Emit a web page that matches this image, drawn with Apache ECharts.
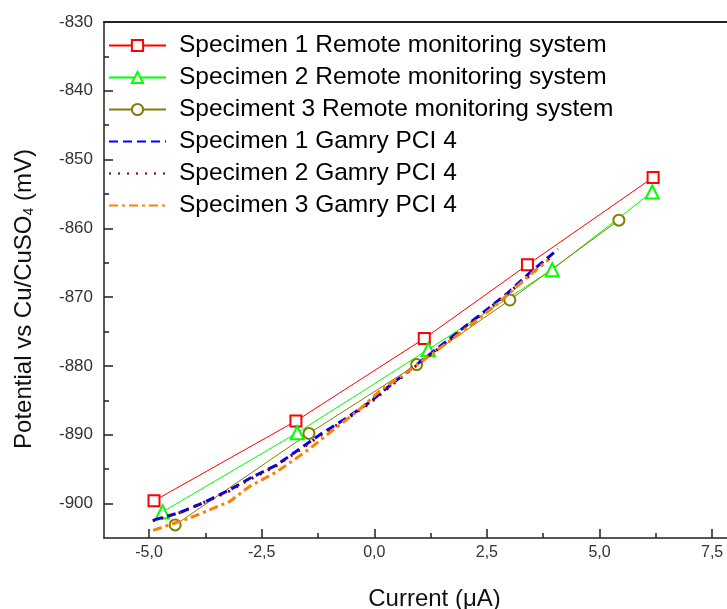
<!DOCTYPE html>
<html>
<head>
<meta charset="utf-8">
<title>Potential vs current</title>
<script src="https://cdn.jsdelivr.net/npm/echarts@6/dist/echarts.min.js"></script>
<style>
    html, body { margin: 0; padding: 0; background: #fff; }
    #chart { width: 727px; height: 609px; }
</style>
</head>
<body>
<div id="chart"></div>
<script>
// remote monitoring system, 5 readings each
const remote1X = [-4.89, -1.74, 1.11, 3.40, 6.19]
const remote1Y = [-899.6, -888.0, -876.0, -865.3, -852.6]
const remote2X = [-4.70, -1.71, 1.20, 3.95, 6.17]
const remote2Y = [-901.2, -889.7, -877.6, -866.0, -854.7]
const remote3X = [-4.42, -1.45, 0.94, 3.01, 5.43]
const remote3Y = [-903.1, -889.8, -879.8, -870.4, -858.8]

// Gamry PCI 4 sweeps
const gamry1X = [-4.90, -4.32, -3.80, -3.21, -2.73, -2.17, -1.69, -1.19, -0.65, -0.11, 0.39, 0.88, 1.43, 1.97, 2.46, 2.96, 3.46, 4.08]
const gamry1Y = [-902.4, -901.3, -899.9, -898.0, -896.2, -894.4, -892.2, -889.9, -887.7, -885.3, -882.6, -880.1, -877.3, -874.5, -872.0, -869.4, -866.4, -863.0]
const gamry2X = [-4.92, -4.35, -3.91, -3.28, -2.77, -2.20, -1.70, -1.20, -0.66, -0.12, 0.38, 0.86, 1.42, 1.95, 2.43, 2.78, 3.37, 3.93]
const gamry2Y = [-902.5, -901.4, -900.2, -898.4, -896.5, -894.6, -892.4, -890.1, -887.9, -885.5, -882.8, -880.3, -877.5, -874.7, -872.3, -870.4, -867.3, -864.1]
const gamry3X = [-4.91, -4.10, -3.58, -3.21, -2.77, -2.17, -1.73, -1.43, -1.01, -0.38, 0.16, 0.70, 1.25, 1.79, 2.15, 2.69, 3.14, 3.55, 3.86]
const gamry3Y = [-903.9, -902.1, -900.7, -899.7, -897.5, -895.4, -893.4, -892.0, -889.8, -886.6, -883.4, -881.0, -878.4, -875.8, -874.0, -871.2, -868.6, -866.2, -864.6]

const seriesNames = [
    'Specimen 1 Remote monitoring system',
    'Specimen 2 Remote monitoring system',
    'Speciment 3 Remote monitoring system',
    'Specimen 1 Gamry PCI 4',
    'Specimen 2 Gamry PCI 4',
    'Specimen 3 Gamry PCI 4'
]

const xMajorTicks = [-5, -2.5, 0, 2.5, 5, 7.5]
const xMinorTicks = [-3.75, -1.25, 1.25, 3.75, 6.25]
const yMajorTicks = [-900, -890, -880, -870, -860, -850, -840, -830]
const yMinorTicks = [-895, -885, -875, -865, -855, -845, -835]

// the original frame runs past the right edge of the picture
const xMin = -6
const xMax = 7.83
const yMin = -905
const yMax = -830

const pairs = (xs, ys) => xs.map((x, i) => [x, ys[i]])

const fontFam = "'Liberation Sans', Arial, sans-serif"

const chart = echarts.init(document.getElementById('chart'), null, { renderer: 'canvas' })

const remoteSeries = (name, xs, ys, color, symbol, size) => ({
    name: name,
    type: 'line',
    data: pairs(xs, ys),
    symbol: symbol,
    symbolSize: size,
    lineStyle: { color: color, width: 1 },
    itemStyle: { color: color, borderWidth: 1.5 },
    emphasis: { disabled: true },
    z: 3
})

const gamrySeries = (name, xs, ys, color, dash) => ({
    name: name,
    type: 'line',
    data: pairs(xs, ys),
    showSymbol: false,
    symbol: 'none',
    lineStyle: { color: color, width: 3, type: dash },
    itemStyle: { color: color },
    emphasis: { disabled: true },
    z: 4
})

// the Gamry entries get a plain line in the legend, no marker
const legendData = seriesNames.map((n, i) => i < 3 ? n : { name: n, itemStyle: { opacity: 0 } })

const frameLine = { color: '#222', width: 1.5 }

chart.setOption({
    animation: false,
    backgroundColor: '#fff',
    grid: {
        left: 104,
        top: 22,
        right: 0,
        bottom: 71,
        outerBoundsMode: 'none'
    },
    legend: {
        orient: 'vertical',
        left: 108,
        top: 33,
        padding: 0,
        itemWidth: 57,
        itemHeight: 14,
        itemGap: 7,
        data: legendData,
        textStyle: {
            color: '#000',
            fontFamily: fontFam,
            fontSize: 24.5,
            lineHeight: 24,
            padding: [0, 0, 0, 8]
        }
    },
    xAxis: [{
        type: 'value',
        position: 'bottom',
        min: xMin,
        max: xMax,
        name: 'Current (\u03bcA)',
        nameLocation: 'middle',
        nameGap: 48,
        nameTextStyle: {
            color: '#111',
            fontFamily: fontFam,
            fontSize: 24,
            lineHeight: 26,
            padding: [0, 0, 0, 38]
        },
        axisLine: { onZero: false, lineStyle: frameLine },
        axisTick: { inside: true, length: 9, lineStyle: frameLine, customValues: xMajorTicks },
        axisLabel: {
            customValues: xMajorTicks,
            margin: 7,
            color: '#333',
            fontFamily: fontFam,
            fontSize: 16,
            formatter: v => v.toFixed(1).replace('.', ',')
        },
        splitLine: { show: false }
    }, {
        type: 'value',
        position: 'bottom',
        min: xMin,
        max: xMax,
        axisLine: { show: false, onZero: false },
        axisTick: { inside: true, length: 5, lineStyle: frameLine, customValues: xMinorTicks },
        axisLabel: { show: false },
        splitLine: { show: false }
    }, {
        // top frame line
        type: 'value',
        position: 'top',
        min: xMin,
        max: xMax,
        axisLine: { show: true, onZero: false, lineStyle: { color: '#222', width: 2 } },
        axisTick: { show: false },
        axisLabel: { show: false },
        splitLine: { show: false }
    }],
    yAxis: [{
        type: 'value',
        position: 'left',
        min: yMin,
        max: yMax,
        name: 'Potential vs Cu/CuSO{sub|4} (mV)',
        nameLocation: 'middle',
        nameGap: 68,
        nameTextStyle: {
            color: '#111',
            fontFamily: fontFam,
            fontSize: 24,
            padding: [0, 38, 0, 0],
            rich: {
                sub: { fontSize: 14, fontFamily: fontFam, color: '#111', padding: [10, 0, 0, 0] }
            }
        },
        axisLine: { onZero: false, lineStyle: frameLine },
        axisTick: { inside: true, length: 9, lineStyle: frameLine, customValues: yMajorTicks },
        axisLabel: {
            customValues: yMajorTicks,
            margin: 11,
            color: '#333',
            fontFamily: fontFam,
            fontSize: 17
        },
        splitLine: { show: false }
    }, {
        type: 'value',
        position: 'left',
        min: yMin,
        max: yMax,
        axisLine: { show: false, onZero: false },
        axisTick: { inside: true, length: 5, lineStyle: frameLine, customValues: yMinorTicks },
        axisLabel: { show: false },
        splitLine: { show: false }
    }],
    series: [
        remoteSeries(seriesNames[0], remote1X, remote1Y, '#ff0000', 'emptyRect', 11),
        remoteSeries(seriesNames[1], remote2X, remote2Y, '#00ff00', 'emptyTriangle', 13),
        remoteSeries(seriesNames[2], remote3X, remote3Y, '#808000', 'emptyCircle', 11),
        gamrySeries(seriesNames[3], gamry1X, gamry1Y, '#0000ff', [9, 5]),
        gamrySeries(seriesNames[4], gamry2X, gamry2Y, '#800000', [2, 7]),
        gamrySeries(seriesNames[5], gamry3X, gamry3Y, '#ff8000', [9, 4, 3, 4])
    ]
})
</script>
</body>
</html>
